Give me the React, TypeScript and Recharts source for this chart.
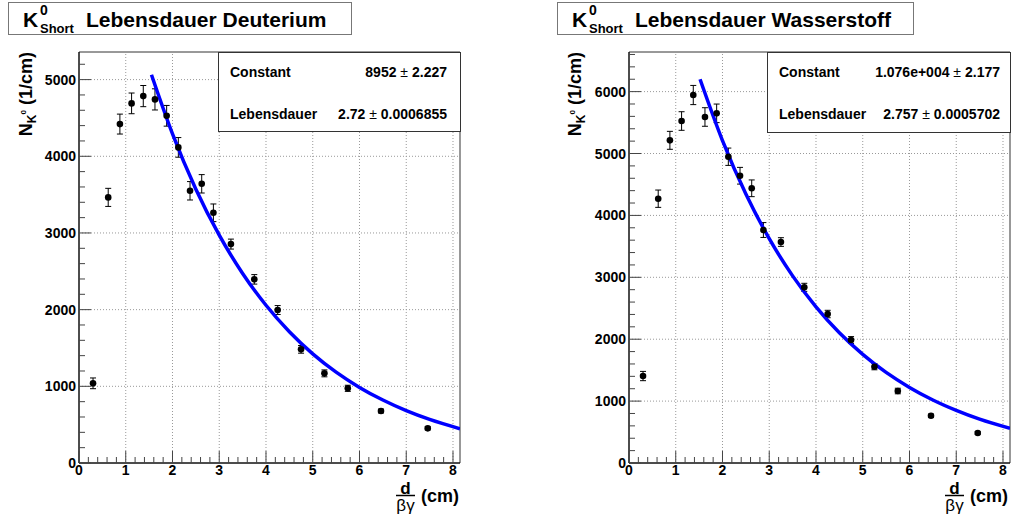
import React from 'react';
import {
  ComposedChart,
  XAxis,
  YAxis,
  Scatter,
  Line,
  ErrorBar,
  ReferenceLine,
  ReferenceArea,
} from 'recharts';

const FONT = '"Liberation Sans", Arial, Helvetica, sans-serif';

// x axis (d / beta gamma in cm)
const xMajorTicks = [0, 1, 2, 3, 4, 5, 6, 7, 8];
const xMax = 8.15;

// Deuterium
const deutX = [0.3, 0.625, 0.875, 1.125, 1.375, 1.625, 1.875, 2.125, 2.375, 2.625, 2.875, 3.25, 3.75, 4.25, 4.75, 5.25, 5.75, 6.46, 7.46];
const deutN = [1039, 3464, 4420, 4690, 4785, 4742, 4528, 4116, 3550, 3641, 3263, 2855, 2395, 1995, 1482, 1169, 974, 678, 452];
const deutErr = [70, 118, 130, 135, 138, 138, 135, 128, 120, 120, 115, 65, 62, 58, 50, 45, 40, 25, 20];
const deutFitX = [1.55, 2, 2.5, 3, 3.5, 4, 4.5, 5, 5.5, 6, 6.5, 7, 7.5, 8.15];
const deutFitN = [5063, 4292, 3571, 2971, 2472, 2057, 1712, 1424, 1185, 986, 821, 683, 568, 447];
const deutYMajor = [0, 1000, 2000, 3000, 4000, 5000];
const deutYMax = 5360;

// Wasserstoff
const wassX = [0.3, 0.625, 0.875, 1.125, 1.375, 1.625, 1.875, 2.125, 2.375, 2.625, 2.875, 3.25, 3.75, 4.25, 4.75, 5.25, 5.75, 6.46, 7.46];
const wassN = [1405, 4270, 5213, 5525, 5945, 5590, 5649, 4948, 4641, 4438, 3764, 3570, 2838, 2407, 1987, 1556, 1163, 764, 485];
const wassErr = [75, 140, 145, 150, 155, 150, 150, 140, 135, 135, 120, 70, 65, 60, 55, 50, 45, 25, 20];
const wassFitX = [1.52, 2, 2.5, 3, 3.5, 4, 4.5, 5, 5.5, 6, 6.5, 7, 7.5, 8.15];
const wassFitN = [6200, 5209, 4345, 3624, 3023, 2522, 2103, 1755, 1463, 1221, 1018, 850, 708, 560];
const wassYMajor = [0, 1000, 2000, 3000, 4000, 5000, 6000];
const wassYMax = 6640;

// axis subdivisions (5 per major step, like ROOT's 510 divisions)
function subdivide(majors: number[], max: number) {
  const step = (majors[1] - majors[0]) / 5;
  const out: number[] = [];
  for (let i = 0; i * step <= max + 1e-9; i++) out.push(Math.round(i * step * 1000) / 1000);
  return out;
}

const XTick = (props: any) => {
  const { x, y, payload } = props;
  const major = xMajorTicks.includes(payload.value);
  return (
    <g>
      <line x1={x} x2={x} y1={y} y2={y - (major ? 12 : 6)} stroke="#444" strokeWidth={1} />
      {major && (
        <text x={x} y={y + 12} textAnchor="middle" fontFamily={FONT} fontWeight="bold" fontSize={14} fill="#000">
          {payload.value}
        </text>
      )}
    </g>
  );
};

const makeYTick = (majors: number[]) => (props: any) => {
  const { x, y, payload } = props;
  const major = majors.includes(payload.value);
  return (
    <g>
      <line x1={x} x2={x + (major ? 12 : 6)} y1={y} y2={y} stroke="#444" strokeWidth={1} />
      {major && (
        <text x={x - 3} y={y + 5} textAnchor="end" fontFamily={FONT} fontWeight="bold" fontSize={14} fill="#000">
          {payload.value}
        </text>
      )}
    </g>
  );
};

const Dot = (props: any) => {
  const { cx, cy } = props;
  return <circle cx={cx} cy={cy} r={3.3} fill="#000" />;
};

interface PanelProps {
  xs: number[];
  ns: number[];
  errs: number[];
  fitX: number[];
  fitN: number[];
  yMajor: number[];
  yMax: number;
}

function Panel({ xs, ns, errs, fitX, fitN, yMajor, yMax }: PanelProps) {
  const points = xs.map((x, i) => ({ x, y: ns[i], err: errs[i] }));
  const fit = fitX.map((x, i) => ({ x, y: fitN[i] }));
  const xTicks = subdivide(xMajorTicks, xMax);
  const yTicks = subdivide(yMajor, yMax);
  const grid = { stroke: '#999', strokeDasharray: '1 2', strokeWidth: 1 };

  return (
    <ComposedChart width={463} height={519} margin={{ top: 52, right: 3, bottom: 0, left: 0 }}>
      <XAxis
        type="number"
        dataKey="x"
        domain={[0, xMax]}
        allowDataOverflow
        ticks={xTicks}
        interval={0}
        tickSize={0}
        tickMargin={0}
        tickLine={false}
        tick={(p: any) => <XTick {...p} />}
        axisLine={{ stroke: '#000', strokeWidth: 1 }}
        height={56}
      />
      <YAxis
        type="number"
        dataKey="y"
        domain={[0, yMax]}
        allowDataOverflow
        ticks={yTicks}
        interval={0}
        tickSize={0}
        tickMargin={0}
        tickLine={false}
        tick={makeYTick(yMajor)}
        axisLine={{ stroke: '#000', strokeWidth: 1 }}
        width={79}
      />
      {xMajorTicks.slice(1).map((v) => (
        <ReferenceLine key={'gx' + v} x={v} {...grid} />
      ))}
      {yMajor.slice(1).map((v) => (
        <ReferenceLine key={'gy' + v} y={v} {...grid} />
      ))}
      <ReferenceArea x1={0} x2={xMax} y1={0} y2={yMax} fill="none" stroke="#333" strokeWidth={1} />
      <Scatter data={points} shape={<Dot />} isAnimationActive={false}>
        <ErrorBar dataKey="err" direction="y" width={3} stroke="#000" strokeWidth={1} />
      </Scatter>
      <Line
        data={fit}
        dataKey="y"
        type="monotone"
        stroke="#0000ff"
        strokeWidth={3.5}
        dot={false}
        activeDot={false}
        isAnimationActive={false}
      />
    </ComposedChart>
  );
}

function Labels({ dx, title, constant, tau, fontSize, valueX, boxW, boxH, titleW }: any) {
  const t = { fontFamily: FONT, fontWeight: 'bold' as const, fill: '#000' };
  return (
    <g transform={`translate(${dx},0)`}>
      {/* title box */}
      <rect x={8.5} y={2.5} width={titleW} height={32} fill="#fff" stroke="#777" />
      <text x={23} y={27} fontSize={21} {...t}>K</text>
      <text x={40} y={15} fontSize={14} {...t}>0</text>
      <text x={40} y={33} fontSize={13} {...t}>Short</text>
      <text x={86} y={27} fontSize={21} {...t}>{title}</text>

      {/* y axis title */}
      <text transform="translate(32,52) rotate(-90)" textAnchor="end" fontSize={18} {...t}>
        N<tspan fontSize={12} dy={4}>K</tspan>
        <tspan fontSize={8} dy={-10}>0</tspan>
        <tspan fontSize={18} dy={6}> (1/cm)</tspan>
      </text>

      {/* x axis title */}
      <text x={405.5} y={494} textAnchor="middle" fontSize={17} {...t}>d</text>
      <line x1={396} x2={415} y1={495.5} y2={495.5} stroke="#000" strokeWidth={1.5} />
      <text x={405.5} y={511} textAnchor="middle" fontSize={17} fontFamily={FONT} fill="#000">βγ</text>
      <text x={421} y={502} fontSize={18} {...t}>(cm)</text>

      {/* fit statistics */}
      <rect x={218.5} y={52.5} width={boxW} height={boxH} fill="#fff" stroke="#333" />
      <text x={230} y={77} fontSize={fontSize} {...t}>Constant</text>
      <text x={valueX} y={77} textAnchor="end" fontSize={fontSize} {...t}>
        {constant[0]}<tspan fontWeight="normal"> ± </tspan>{constant[1]}
      </text>
      <text x={230} y={119} fontSize={fontSize} {...t}>Lebensdauer</text>
      <text x={valueX} y={119} textAnchor="end" fontSize={fontSize} {...t}>
        {tau[0]}<tspan fontWeight="normal"> ± </tspan>{tau[1]}
      </text>
    </g>
  );
}

export default function App() {
  return (
    <div style={{ position: 'absolute', left: 0, top: 0, width: 1013, height: 519, background: '#fff' }}>
      <div style={{ position: 'absolute', left: 0, top: 0 }}>
        <Panel xs={deutX} ns={deutN} errs={deutErr} fitX={deutFitX} fitN={deutFitN} yMajor={deutYMajor} yMax={deutYMax} />
      </div>
      <div style={{ position: 'absolute', left: 550, top: 0 }}>
        <Panel xs={wassX} ns={wassN} errs={wassErr} fitX={wassFitX} fitN={wassFitN} yMajor={wassYMajor} yMax={wassYMax} />
      </div>
      <svg width={1013} height={519} style={{ position: 'absolute', left: 0, top: 0, pointerEvents: 'none' }}>
        <Labels
          dx={0}
          title="Lebensdauer Deuterium"
          constant={['8952', '2.227']}
          tau={['2.72', '0.0006855']}
          fontSize={14}
          valueX={447}
          boxW={242}
          boxH={79}
          titleW={343}
        />
        <Labels
          dx={549}
          title="Lebensdauer Wasserstoff"
          constant={['1.076e+004', '2.177']}
          tau={['2.757', '0.0005702']}
          fontSize={14}
          valueX={451}
          boxW={243}
          boxH={80}
          titleW={356}
        />
      </svg>
    </div>
  );
}
